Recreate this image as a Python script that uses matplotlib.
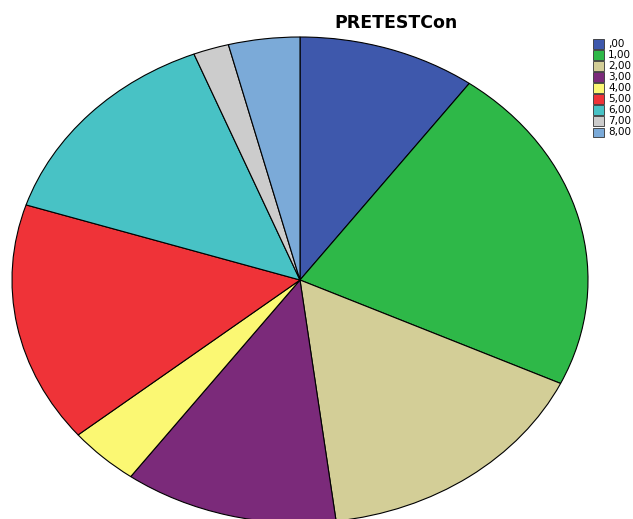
import numpy as np
import matplotlib.pyplot as plt
from matplotlib.patches import Rectangle

# PRETESTCon frequencies
labels = [',00', '1,00', '2,00', '3,00', '4,00', '5,00', '6,00', '7,00', '8,00']
counts = [5, 11, 8, 6, 2, 8, 7, 1, 2]
colors = ['#3E58AC', '#2EB848', '#D3CE97', '#7B2A7A', '#FBF873',
          '#EF3338', '#48C2C5', '#CCCCCC', '#7BAAD8']

W, H = 633, 519
fig = plt.figure(figsize=(W / 100, H / 100), dpi=100)

# pie axes stretched so the pie becomes an ellipse
ax = fig.add_axes([12 / W, (H - 523) / H, 576 / W, 486 / H])
ax.pie(counts, colors=colors, startangle=90, counterclock=False,
       wedgeprops=dict(edgecolor='black', linewidth=0.8))
ax.set_aspect('auto')
ax.set_xlim(-1, 1)
ax.set_ylim(-1, 1)
ax.axis('off')

fig.text(396 / W, 1 - 23 / H, 'PRETESTCon', ha='center', va='center',
         fontsize=12.5, fontweight='bold', family='DejaVu Sans')

# legend drawn by hand so it can run off the right edge
for i, (lab, c) in enumerate(zip(labels, colors)):
    y = 44 + i * 11
    fig.patches.append(Rectangle((593 / W, 1 - (y + 4.5) / H), 11 / W, 9 / H,
                                 transform=fig.transFigure, facecolor=c,
                                 edgecolor='#333333', linewidth=0.6))
    fig.text(608 / W, 1 - y / H, lab, ha='left', va='center',
             fontsize=7.5, family='DejaVu Sans')

fig.savefig('out.png', dpi=100)
